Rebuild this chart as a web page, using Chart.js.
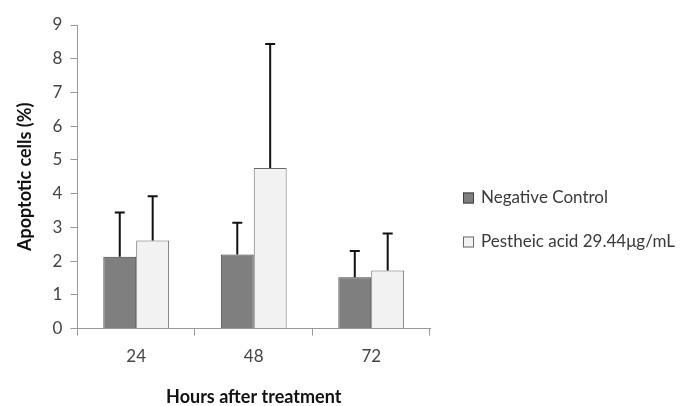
<!DOCTYPE html>
<html>
<head>
<meta charset="utf-8">
<script src="https://cdn.jsdelivr.net/npm/chart.js@4"></script>
<style>
  html, body { margin: 0; padding: 0; background: #fff; }
  #wrap { width: 692px; height: 406px; position: relative; }
</style>
</head>
<body>
<div id="wrap"><canvas id="chartCanvas"></canvas></div>
<script>
// --- data ---
const hours = ["24", "48", "72"];
const controlMean = [2.13, 2.2, 1.52];
const controlSD = [1.31, 0.94, 0.78];
const acidMean = [2.61, 4.76, 1.72];
const acidSD = [1.31, 3.68, 1.1];

// upward-only error bars with a cap, drawn from the bar scale
const errorBars = {
  id: "errorBars",
  afterDatasetsDraw(chart) {
    const ctx = chart.ctx;
    const yScale = chart.scales.y;
    chart.data.datasets.forEach((ds, i) => {
      const meta = chart.getDatasetMeta(i);
      meta.data.forEach((bar, j) => {
        const top = yScale.getPixelForValue(ds.data[j] + ds.sd[j]);
        ctx.save();
        ctx.strokeStyle = "#111";
        ctx.lineWidth = 2;
        ctx.beginPath();
        ctx.moveTo(bar.x, bar.y);
        ctx.lineTo(bar.x, top);
        ctx.moveTo(bar.x - 5, top);
        ctx.lineTo(bar.x + 5, top);
        ctx.stroke();
        ctx.restore();
      });
    });
  }
};

// the built-in right legend gets squeezed, so draw it next to the plot
const sideLegend = {
  id: "sideLegend",
  afterDraw(chart) {
    const ctx = chart.ctx;
    const area = chart.chartArea;
    const x = area.right + 33;
    let y = area.top + 173;
    ctx.save();
    ctx.font = "17px Lato";
    ctx.textBaseline = "middle";
    chart.data.datasets.forEach(ds => {
      ctx.fillStyle = ds.backgroundColor;
      ctx.fillRect(x, y - 5.5, 11, 11);
      ctx.strokeStyle = ds.borderColor;
      ctx.lineWidth = 1;
      ctx.strokeRect(x + 0.5, y - 5, 10, 10);
      ctx.fillStyle = "#3a3a3a";
      ctx.fillText(ds.label, x + 18, y);
      y += 44;
    });
    ctx.restore();
  }
};

new Chart(document.getElementById("chartCanvas"), {
  type: "bar",
  data: {
    labels: hours,
    datasets: [
      {
        label: "Negative Control",
        data: controlMean,
        sd: controlSD,
        backgroundColor: "#7f7f7f",
        borderColor: "#404040",
        borderWidth: 1
      },
      {
        label: "Pestheic acid 29.44μg/mL",
        data: acidMean,
        sd: acidSD,
        backgroundColor: "#f2f2f2",
        borderColor: "#6a6a6a",
        borderWidth: 1
      }
    ]
  },
  options: {
    responsive: true,
    maintainAspectRatio: false,
    animation: false,
    layout: { padding: { top: 25, right: 262, bottom: 0, left: 14 } },
    categoryPercentage: 0.56,
    barPercentage: 1.0,
    plugins: {
      legend: { display: false },
      tooltip: { enabled: false }
    },
    scales: {
      x: {
        grid: { drawOnChartArea: false, drawTicks: true, tickLength: 7, color: "#999", offset: true },
        border: { color: "#999", width: 1 },
        ticks: { font: { family: "Lato", size: 17 }, color: "#444", padding: 11 },
        title: {
          display: true,
          text: "Hours after treatment",
          font: { family: "Lato", size: 18, weight: "bold", lineHeight: 1.0 },
          color: "#111",
          padding: { top: 10, bottom: 0 }
        }
      },
      y: {
        min: 0,
        max: 9,
        ticks: { stepSize: 1, font: { family: "Lato", size: 17 }, color: "#444", padding: 8 },
        grid: { drawOnChartArea: false, drawTicks: true, tickLength: 7, color: "#999" },
        border: { color: "#999", width: 1 },
        title: {
          display: true,
          text: "Apoptotic cells (%)",
          font: { family: "Lato", size: 18, weight: "bold" },
          color: "#111",
          padding: { top: 0, bottom: 9 }
        }
      }
    }
  },
  plugins: [errorBars, sideLegend]
});
</script>
</body>
</html>
